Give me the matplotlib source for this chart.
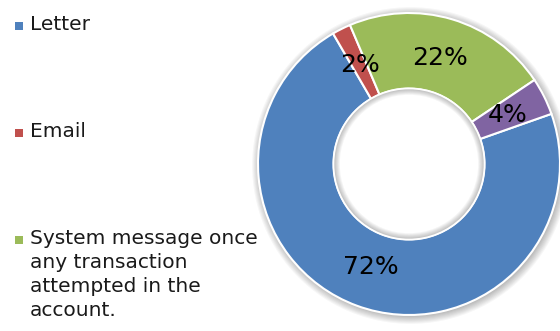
import matplotlib.pyplot as plt
from matplotlib.patches import Circle, Wedge, Rectangle

# Values
labels = ["Letter", "Email", "System message once\nany transaction\nattempted in the\naccount.", "Other"]
shares = [72, 2, 22, 4]
colors = ["#4F81BD", "#C0504D", "#9BBB59", "#8064A2"]
legend_count = 3  # only the first three show in the legend

fig = plt.figure(figsize=(5.6, 3.31), dpi=100)

# Donut axes: centre near (410, 163) px, outer radius ~152 px
R = 151
lim = 1.12
size = R * lim * 2
cx, cy = 409, 331 - 164
ax = fig.add_axes([(cx - size / 2) / 560, (cy - size / 2) / 331, size / 560, size / 331])

# soft shadow round the outer edge
for i in range(8):
    ax.add_patch(Circle((0.01, -0.01), 1.0 + 0.007 * i, color='black', alpha=0.035, lw=0, zorder=0))

wedges, texts, autotexts = ax.pie(
    shares, colors=colors, startangle=19.4, counterclock=False,
    radius=1.0, autopct='%1.0f%%', pctdistance=0.73,
    wedgeprops=dict(width=0.5, edgecolor='white', linewidth=1.5),
    textprops=dict(fontsize=18, color='black', family='DejaVu Sans'),
)
for w in wedges:
    w.set_zorder(2)
for t in autotexts:
    t.set_zorder(4)

# pie() resets limits, so set them afterwards
ax.set_xlim(-lim, lim)
ax.set_ylim(-lim, lim)
ax.set_aspect('equal')
ax.axis('off')

# hole: white plus a faint inner shadow
ax.add_patch(Circle((0, 0), 0.5, color='white', lw=0, zorder=3))
for i in range(7):
    ax.add_patch(Wedge((0.0, 0.0), 0.5, 0, 360, width=0.006 * (i + 1), color='black', alpha=0.04, lw=0, zorder=3))
ax.add_patch(Circle((0, 0), 0.5, fill=False, edgecolor='white', lw=1.2, zorder=3))

# legend on the left, drawn by hand to match the spread-out layout
rows = [26, 133, 240]
line_h = 26.7
for i in range(legend_count):
    y = rows[i]
    fig.patches.append(Rectangle((15 / 560, 1 - (y + 4) / 331), 8 / 560, 8 / 331,
                                 transform=fig.transFigure, color=colors[i], lw=0))
    fig.text(30 / 560, 1 - (y - line_h / 2 + 2) / 331, labels[i], fontsize=14.5,
             family='DejaVu Sans', color='#1a1a1a', va='top', ha='left', linespacing=1.33)

fig.savefig("out.png", dpi=100)
